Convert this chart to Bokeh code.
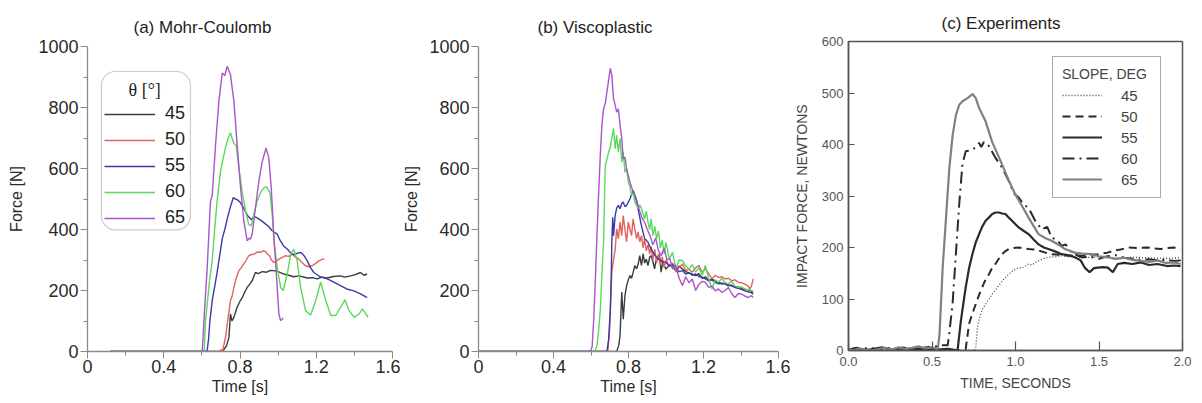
from bokeh.plotting import figure
from bokeh.layouts import row
from bokeh.models import Range1d, FixedTicker, Legend, LegendItem, BoxAnnotation, Label
from bokeh.embed import file_html
from bokeh.resources import INLINE

FONT = "Liberation Sans"
angles = ["45", "50", "55", "60", "65"]
ab_colors = ["#3c3c3c", "#e2625c", "#3a3aa8", "#5cd85c", "#a855c8"]

# ---------------- (a) Mohr-Coulomb ----------------
a_t45 = [0.12, 0.70, 0.715, 0.73, 0.742, 0.75, 0.758, 0.768, 0.785, 0.80, 0.812, 0.825, 0.838, 0.85, 0.864, 0.872, 0.881, 0.895, 0.917, 0.94, 0.96, 0.977, 1.0, 1.03, 1.055, 1.082, 1.11, 1.153, 1.18, 1.205, 1.23, 1.258, 1.29, 1.327, 1.35, 1.38, 1.405, 1.432, 1.45, 1.467]
a_f45 = [0, 0, 5, 20, 47, 123, 100, 112, 145, 165, 177, 195, 210, 220, 232, 245, 259, 255, 262, 260, 266, 265, 262, 254, 250, 245, 248, 241, 242, 238, 244, 241, 246, 248, 244, 248, 252, 259, 250, 254]
a_t50 = [0.12, 0.69, 0.70, 0.708, 0.715, 0.725, 0.733, 0.742, 0.75, 0.758, 0.768, 0.78, 0.794, 0.807, 0.82, 0.833, 0.846, 0.86, 0.873, 0.89, 0.908, 0.92, 0.934, 0.945, 0.955, 0.965, 0.977, 0.99, 1.004, 1.02, 1.039, 1.055, 1.074, 1.09, 1.109, 1.125, 1.144, 1.16, 1.179, 1.195, 1.214, 1.23, 1.243]
a_f50 = [0, 0, 5, 3, 20, 50, 90, 130, 167, 180, 210, 240, 265, 275, 287, 300, 314, 318, 319, 326, 325, 330, 328, 318, 314, 300, 292, 296, 303, 308, 314, 312, 319, 310, 303, 292, 281, 278, 281, 288, 297, 302, 303]
a_t55 = [0.12, 0.627, 0.635, 0.642, 0.655, 0.668, 0.68, 0.695, 0.707, 0.72, 0.735, 0.75, 0.765, 0.775, 0.785, 0.80, 0.82, 0.84, 0.86, 0.875, 0.89, 0.91, 0.93, 0.95, 0.97, 0.995, 1.01, 1.03, 1.048, 1.07, 1.085, 1.1, 1.12, 1.135, 1.153, 1.17, 1.187, 1.22, 1.258, 1.29, 1.327, 1.36, 1.397, 1.43, 1.467]
a_f55 = [0, 0, 40, 100, 170, 215, 260, 320, 370, 400, 440, 475, 505, 500, 498, 490, 470, 445, 432, 442, 438, 430, 420, 410, 395, 385, 365, 345, 336, 320, 318, 322, 325, 315, 297, 275, 259, 245, 238, 228, 216, 205, 199, 190, 177]
a_t60 = [0.12, 0.612, 0.619, 0.628, 0.64, 0.654, 0.667, 0.68, 0.698, 0.712, 0.724, 0.738, 0.75, 0.758, 0.768, 0.78, 0.794, 0.811, 0.829, 0.846, 0.859, 0.873, 0.89, 0.908, 0.925, 0.94, 0.957, 0.969, 0.978, 0.995, 1.013, 1.027, 1.048, 1.066, 1.083, 1.1, 1.118, 1.144, 1.171, 1.197, 1.223, 1.25, 1.276, 1.302, 1.328, 1.351, 1.372, 1.399, 1.425, 1.442, 1.46, 1.472]
a_f60 = [0, 0, 100, 156, 230, 297, 400, 493, 592, 635, 668, 700, 717, 700, 682, 676, 602, 526, 461, 417, 412, 450, 493, 521, 537, 540, 521, 450, 363, 276, 210, 200, 254, 319, 335, 297, 210, 134, 120, 167, 228, 167, 118, 118, 145, 170, 134, 112, 123, 140, 123, 112]
a_t65 = [0.12, 0.602, 0.614, 0.628, 0.645, 0.654, 0.672, 0.689, 0.707, 0.72, 0.733, 0.75, 0.768, 0.785, 0.803, 0.82, 0.838, 0.848, 0.855, 0.864, 0.881, 0.899, 0.917, 0.937, 0.951, 0.964, 0.977, 0.992, 1.004, 1.013, 1.027]
a_f65 = [0, 0, 134, 275, 493, 510, 679, 820, 913, 905, 935, 907, 820, 679, 537, 428, 363, 372, 368, 385, 472, 559, 624, 667, 635, 537, 385, 243, 123, 101, 110]

# ---------------- (b) Viscoplastic ----------------
b_t45 = [0, 0.737, 0.748, 0.755, 0.764, 0.772, 0.781, 0.79, 0.799, 0.808, 0.816, 0.825, 0.834, 0.843, 0.851, 0.86, 0.869, 0.878, 0.886, 0.895, 0.904, 0.913, 0.921, 0.93, 0.939, 0.947, 0.956, 0.965, 0.974, 0.982, 0.991, 1.0, 1.018, 1.035, 1.053, 1.07, 1.088, 1.105, 1.123, 1.14, 1.158, 1.175, 1.193, 1.21, 1.228, 1.245, 1.263, 1.28, 1.298, 1.315, 1.333, 1.35, 1.368, 1.386, 1.403, 1.42, 1.438, 1.455, 1.465]
b_f45 = [0, 0, 20, 53, 195, 106, 183, 216, 235, 249, 240, 260, 282, 271, 285, 314, 282, 320, 290, 303, 282, 310, 314, 295, 271, 300, 303, 318, 260, 293, 280, 270, 285, 276, 265, 280, 270, 262, 258, 254, 249, 255, 240, 245, 232, 238, 230, 228, 221, 225, 218, 215, 210, 212, 206, 203, 203, 198, 194]
b_t50 = [0, 0.69, 0.70, 0.711, 0.72, 0.729, 0.737, 0.746, 0.755, 0.764, 0.772, 0.781, 0.79, 0.799, 0.808, 0.816, 0.825, 0.834, 0.843, 0.851, 0.86, 0.869, 0.878, 0.886, 0.895, 0.904, 0.913, 0.921, 0.93, 0.94, 0.95, 0.96, 0.97, 0.98, 0.99, 1.0, 1.018, 1.035, 1.053, 1.07, 1.088, 1.105, 1.123, 1.14, 1.158, 1.175, 1.193, 1.21, 1.228, 1.245, 1.263, 1.28, 1.298, 1.315, 1.333, 1.35, 1.368, 1.386, 1.403, 1.42, 1.438, 1.447, 1.456, 1.465]
b_f50 = [0, 0, 80, 260, 300, 336, 402, 370, 424, 380, 446, 400, 360, 424, 400, 380, 435, 400, 370, 392, 360, 380, 340, 370, 330, 350, 320, 345, 300, 335, 290, 320, 285, 310, 275, 300, 281, 290, 260, 275, 287, 265, 270, 260, 275, 282, 260, 271, 255, 238, 250, 243, 245, 238, 240, 232, 235, 227, 225, 221, 215, 205, 215, 238]
b_t55 = [0, 0.685, 0.694, 0.703, 0.708, 0.711, 0.716, 0.72, 0.729, 0.737, 0.746, 0.755, 0.764, 0.772, 0.781, 0.79, 0.799, 0.808, 0.816, 0.825, 0.834, 0.843, 0.851, 0.86, 0.869, 0.878, 0.886, 0.895, 0.904, 0.913, 0.921, 0.935, 0.95, 0.965, 0.98, 1.0, 1.018, 1.035, 1.053, 1.07, 1.088, 1.105, 1.123, 1.14, 1.158, 1.175, 1.193, 1.21, 1.228, 1.245, 1.263, 1.28, 1.298, 1.315, 1.333, 1.35, 1.368, 1.386, 1.403, 1.42, 1.438, 1.455, 1.465]
b_f55 = [0, 0, 40, 139, 250, 358, 440, 380, 446, 470, 479, 468, 485, 490, 475, 479, 490, 501, 515, 528, 512, 490, 468, 440, 413, 390, 369, 365, 358, 345, 336, 320, 310, 300, 295, 292, 280, 285, 270, 262, 265, 254, 258, 250, 254, 246, 244, 238, 232, 235, 227, 222, 224, 221, 215, 218, 210, 206, 204, 199, 196, 193, 188]
b_t60 = [0, 0.62, 0.632, 0.641, 0.65, 0.658, 0.667, 0.672, 0.676, 0.685, 0.694, 0.703, 0.711, 0.72, 0.729, 0.737, 0.746, 0.755, 0.764, 0.772, 0.781, 0.79, 0.799, 0.808, 0.816, 0.825, 0.834, 0.843, 0.851, 0.86, 0.869, 0.878, 0.886, 0.895, 0.904, 0.913, 0.921, 0.93, 0.94, 0.95, 0.96, 0.97, 0.98, 0.99, 1.0, 1.018, 1.035, 1.053, 1.07, 1.088, 1.105, 1.123, 1.14, 1.158, 1.175, 1.193, 1.21, 1.228, 1.245, 1.263, 1.28, 1.298, 1.315, 1.333, 1.35, 1.368, 1.386, 1.403, 1.42, 1.438, 1.455, 1.465]
b_f60 = [0, 0, 20, 70, 139, 250, 358, 500, 610, 630, 654, 670, 698, 731, 665, 709, 654, 698, 621, 654, 588, 600, 555, 540, 512, 520, 490, 480, 468, 480, 470, 450, 435, 460, 424, 400, 435, 380, 410, 370, 395, 340, 365, 320, 358, 303, 325, 270, 300, 298, 280, 270, 285, 260, 275, 250, 282, 238, 205, 235, 227, 240, 225, 222, 230, 215, 210, 212, 205, 203, 200, 197]
b_t65 = [0, 0.595, 0.606, 0.615, 0.624, 0.633, 0.641, 0.65, 0.658, 0.667, 0.676, 0.685, 0.694, 0.703, 0.711, 0.72, 0.729, 0.737, 0.746, 0.755, 0.764, 0.772, 0.781, 0.79, 0.808, 0.825, 0.84, 0.855, 0.87, 0.885, 0.9, 0.915, 0.93, 0.945, 0.96, 0.975, 0.99, 1.005, 1.02, 1.035, 1.05, 1.07, 1.088, 1.105, 1.123, 1.14, 1.158, 1.175, 1.193, 1.21, 1.228, 1.245, 1.263, 1.28, 1.298, 1.315, 1.333, 1.35, 1.368, 1.386, 1.403, 1.42, 1.438, 1.455, 1.465]
b_f65 = [0, 0, 15, 110, 249, 400, 522, 650, 742, 796, 813, 851, 890, 928, 906, 829, 807, 785, 796, 742, 698, 632, 637, 599, 555, 522, 505, 470, 440, 425, 400, 380, 350, 372, 330, 315, 340, 300, 305, 270, 285, 240, 216, 245, 225, 238, 200, 220, 230, 227, 210, 215, 199, 205, 194, 200, 210, 190, 177, 190, 188, 182, 177, 183, 177]

# ---------------- (c) Experiments ----------------
c_t45 = [0.0, 0.2, 0.4, 0.6, 0.75, 0.762, 0.772, 0.782, 0.791, 0.802, 0.821, 0.842, 0.861, 0.881, 0.9, 0.921, 0.94, 0.96, 0.98, 1.0, 1.019, 1.04, 1.06, 1.078, 1.099, 1.12, 1.139, 1.16, 1.178, 1.197, 1.238, 1.276, 1.32, 1.4, 1.5, 1.6, 1.7, 1.8, 1.9, 1.988]
c_f45 = [0, 0, 0, 0, 0, 5, 45, 60, 70, 80, 90, 100, 110, 118, 126, 135, 142, 148, 154, 158, 161, 160, 164, 168, 166, 171, 174, 177, 180, 181, 182, 184, 182, 180, 182, 179, 181, 180, 179, 180]
c_t50 = [0.0, 0.1, 0.2, 0.3, 0.4, 0.5, 0.6, 0.68, 0.702, 0.722, 0.742, 0.762, 0.782, 0.801, 0.821, 0.841, 0.86, 0.88, 0.9, 0.92, 0.94, 0.96, 0.99, 1.019, 1.05, 1.078, 1.11, 1.138, 1.18, 1.217, 1.26, 1.316, 1.36, 1.395, 1.45, 1.494, 1.55, 1.593, 1.63, 1.672, 1.73, 1.791, 1.83, 1.87, 1.91, 1.949, 1.988]
c_f50 = [0, 2, 0, 1, 0, 2, 0, 0, 3, 52, 72, 90, 108, 123, 138, 148, 160, 168, 178, 187, 193, 197, 199, 200, 198, 197, 196, 194, 190, 187, 186, 184, 185, 184, 186, 187, 190, 194, 196, 200, 199, 200, 198, 197, 199, 200, 197]
c_t55 = [0.0, 0.05, 0.1, 0.15, 0.2, 0.25, 0.3, 0.35, 0.4, 0.45, 0.5, 0.55, 0.6, 0.653, 0.673, 0.702, 0.722, 0.742, 0.762, 0.782, 0.8, 0.821, 0.84, 0.861, 0.88, 0.9, 0.92, 0.94, 0.96, 0.979, 1.0, 1.019, 1.05, 1.078, 1.11, 1.138, 1.17, 1.197, 1.24, 1.276, 1.32, 1.355, 1.39, 1.414, 1.444, 1.47, 1.494, 1.525, 1.553, 1.583, 1.612, 1.65, 1.7, 1.751, 1.8, 1.85, 1.909, 1.95, 1.988]
c_f55 = [2, 5, 0, 3, 6, 2, 4, 0, 3, 2, 4, 2, 3, 0, 58, 123, 160, 187, 210, 226, 240, 252, 258, 265, 268, 268, 266, 265, 258, 252, 245, 239, 232, 226, 215, 206, 200, 197, 192, 187, 185, 181, 175, 161, 152, 160, 161, 162, 161, 152, 168, 170, 168, 171, 166, 168, 164, 165, 164]
c_t60 = [0.0, 0.04, 0.08, 0.12, 0.16, 0.2, 0.24, 0.28, 0.32, 0.36, 0.4, 0.44, 0.48, 0.52, 0.56, 0.594, 0.603, 0.623, 0.643, 0.663, 0.682, 0.702, 0.722, 0.742, 0.762, 0.782, 0.795, 0.811, 0.841, 0.88, 0.92, 0.96, 0.99, 1.019, 1.05, 1.078, 1.118, 1.157, 1.19, 1.217, 1.25, 1.276, 1.3, 1.335, 1.395, 1.45, 1.5, 1.55, 1.6, 1.65, 1.7, 1.75, 1.8, 1.85, 1.9, 1.95, 1.99]
c_f60 = [0, 4, 2, 6, 3, 0, 5, 2, 6, 4, 2, 5, 7, 8, 10, 10, 32, 90, 187, 284, 361, 387, 388, 390, 395, 403, 395, 405, 397, 374, 355, 329, 305, 297, 283, 277, 252, 235, 240, 219, 215, 203, 206, 190, 181, 182, 178, 183, 185, 180, 178, 176, 177, 175, 176, 174, 175]
c_t65 = [0.0, 0.03, 0.06, 0.1, 0.14, 0.18, 0.22, 0.26, 0.3, 0.34, 0.38, 0.42, 0.46, 0.5, 0.535, 0.545, 0.564, 0.584, 0.604, 0.624, 0.644, 0.663, 0.683, 0.713, 0.743, 0.762, 0.782, 0.821, 0.86, 0.92, 0.96, 0.999, 1.04, 1.078, 1.138, 1.18, 1.217, 1.26, 1.296, 1.355, 1.4, 1.454, 1.5, 1.553, 1.6, 1.65, 1.7, 1.751, 1.8, 1.85, 1.9, 1.95, 1.988]
c_f65 = [3, 0, 4, 2, 0, 3, 5, 2, 6, 3, 5, 8, 4, 6, 3, 32, 161, 258, 355, 419, 458, 477, 484, 490, 498, 490, 471, 445, 405, 361, 330, 303, 280, 258, 226, 218, 213, 205, 197, 190, 188, 187, 183, 181, 178, 180, 176, 174, 172, 175, 170, 171, 168]

ab_x_ticks = [0, 0.4, 0.8, 1.2, 1.6]
ab_x_minor = [0.2, 0.6, 1.0, 1.4]
ab_y_ticks = [0, 200, 400, 600, 800, 1000]
ab_y_minor = [100, 300, 500, 700, 900]
c_x_ticks = [0.0, 0.5, 1.0, 1.5, 2.0]
c_x_labels = ["0.0", "0.5", "1.0", "1.5", "2.0"]
c_y_ticks = [0, 100, 200, 300, 400, 500, 600]


def style_ab(p, title, title_offset, ylab_standoff):
    p.title.text = title
    p.title.align = "left"
    p.title.offset = title_offset
    p.title.standoff = 20
    p.title.text_font = FONT
    p.title.text_font_size = "17px"
    p.title.text_font_style = "normal"
    p.title.text_color = "#222222"
    p.xgrid.visible = False
    p.ygrid.visible = False
    p.outline_line_color = None
    p.xaxis.ticker = FixedTicker(ticks=ab_x_ticks, minor_ticks=ab_x_minor)
    p.yaxis.ticker = FixedTicker(ticks=ab_y_ticks, minor_ticks=ab_y_minor)
    p.xaxis.major_label_overrides = {0: "0", 0.4: "0.4", 0.8: "0.8", 1.2: "1.2", 1.6: "1.6"}
    p.xaxis.axis_label = "Time [s]"
    p.yaxis.axis_label = "Force [N]"
    for ax in (p.xaxis[0], p.yaxis[0]):
        ax.axis_line_color = "#8a8a8a"
        ax.axis_line_width = 1.3
        ax.major_tick_line_color = "#8a8a8a"
        ax.minor_tick_line_color = "#8a8a8a"
        ax.major_tick_in = 0
        ax.minor_tick_in = 0
        ax.major_tick_out = 7
        ax.minor_tick_out = 4
        ax.major_label_text_font = FONT
        ax.major_label_text_font_size = "18px"
        ax.major_label_text_color = "#2a2a2a"
        ax.axis_label_text_font = FONT
        ax.axis_label_text_font_size = "16px"
        ax.axis_label_text_font_style = "normal"
        ax.axis_label_text_color = "#2a2a2a"
    p.xaxis.major_label_standoff = 1
    p.xaxis.axis_label_standoff = 2
    p.yaxis.major_label_standoff = 2
    p.yaxis.axis_label_standoff = ylab_standoff


def make_ab(width, data, title, title_offset, mbl, mbr, ylab_standoff):
    p = figure(width=width, height=396, x_range=Range1d(0, 1.6), y_range=Range1d(0, 1000),
               output_backend="svg", toolbar_location=None,
               min_border_left=mbl, min_border_right=mbr, min_border_top=40, min_border_bottom=50)
    p.margin = (5, 0, 0, 0)
    style_ab(p, title, title_offset, ylab_standoff)
    rends = []
    for (t, f), col in zip(data, ab_colors):
        rends.append(p.line(t, f, line_color=col, line_width=1.4))
    return p, rends


pa, ra = make_ab(400, [(a_t45, a_f45), (a_t50, a_f50), (a_t55, a_f55), (a_t60, a_f60), (a_t65, a_f65)],
                 "(a) Mohr-Coulomb", 46, 87, 8, 10)
pb, rb = make_ab(390, [(b_t45, b_f45), (b_t50, b_f50), (b_t55, b_f55), (b_t60, b_f60), (b_t65, b_f65)],
                 "(b) Viscoplastic", 59, 73, 12, 6)

# rounded legend frame of panel (a)
box = BoxAnnotation(left=0.073, right=0.54, bottom=399, top=918,
                    fill_color=None, fill_alpha=0, level="underlay",
                    line_color="#555555", line_width=1.2, border_radius=14)
pa.add_layout(box)
pa.add_layout(Label(x=0.30, y=856, text="\u03b8 [\u00b0]", text_align="center", text_baseline="middle",
                    text_font="Liberation Serif", text_font_size="18px", text_color="#222222"))
leg_a = Legend(items=[LegendItem(label=a, renderers=[r]) for a, r in zip(angles, ra)],
               location=(12, 118), orientation="vertical",
               background_fill_alpha=0, border_line_alpha=0,
               padding=5, spacing=5, label_height=20, glyph_height=20, glyph_width=51,
               label_standoff=10, label_text_font=FONT, label_text_font_size="18px",
               label_text_color="#222222")
pa.add_layout(leg_a)

# ---------------- panel (c) ----------------
pc = figure(width=408, height=400, x_range=Range1d(0, 2.0), y_range=Range1d(0, 600),
            output_backend="svg", toolbar_location=None,
            min_border_left=55, min_border_right=16, min_border_top=40, min_border_bottom=50)
pc.title.text = "(c) Experiments"
pc.title.align = "left"
pc.title.offset = 93
pc.title.standoff = 18
pc.title.text_font = FONT
pc.title.text_font_size = "17px"
pc.title.text_font_style = "normal"
pc.title.text_color = "#222222"
pc.xgrid.visible = False
pc.ygrid.visible = False
pc.outline_line_color = "#555555"
pc.outline_line_width = 1.5
pc.xaxis.ticker = FixedTicker(ticks=c_x_ticks)
pc.yaxis.ticker = FixedTicker(ticks=c_y_ticks)
pc.xaxis.major_label_overrides = dict(zip(c_x_ticks, c_x_labels))
pc.xaxis.axis_label = "TIME, SECONDS"
pc.yaxis.axis_label = "IMPACT FORCE, NEWTONS"
for ax in (pc.xaxis[0], pc.yaxis[0]):
    ax.axis_line_color = "#555555"
    ax.axis_line_width = 1.5
    ax.major_tick_line_color = "#555555"
    ax.major_tick_line_width = 1.2
    ax.minor_tick_line_color = None
    ax.major_tick_out = 0
    ax.major_label_text_font = FONT
    ax.major_label_text_font_size = "13px"
    ax.major_label_text_color = "#555555"
    ax.axis_label_text_font = FONT
    ax.axis_label_text_font_size = "14px"
    ax.axis_label_text_font_style = "normal"
    ax.axis_label_text_color = "#444444"
pc.xaxis.major_tick_in = 9
pc.yaxis.major_tick_in = 6
pc.xaxis.major_label_standoff = 6
pc.xaxis.axis_label_standoff = 6
pc.yaxis.major_label_standoff = 5
pc.yaxis.axis_label_standoff = 9

c_styles = [
    dict(line_color="#444444", line_width=1.3, line_dash="1 2"),
    dict(line_color="#2a2a2a", line_width=2.0, line_dash="8 5"),
    dict(line_color="#2a2a2a", line_width=2.2),
    dict(line_color="#2a2a2a", line_width=2.0, line_dash="12 5 2 5"),
    dict(line_color="#808080", line_width=2.2),
]
rc = []
for (t, f), st in zip([(c_t45, c_f45), (c_t50, c_f50), (c_t55, c_f55), (c_t60, c_f60), (c_t65, c_f65)], c_styles):
    rc.append(pc.line(t, f, **st))

leg_c = Legend(items=[LegendItem(label=a, renderers=[r]) for a, r in zip(angles, rc)],
               location=(204, 152), orientation="vertical", title="SLOPE, DEG",
               title_text_font=FONT, title_text_font_size="14px", title_text_font_style="normal",
               title_text_color="#444444", title_standoff=4,
               background_fill_color="white", background_fill_alpha=1,
               border_line_color="#555555", border_line_width=1.5,
               padding=9, spacing=3, label_height=18, glyph_height=18, glyph_width=40,
               label_standoff=19, label_width=30, label_text_font=FONT, label_text_font_size="15px",
               label_text_color="#444444")
pc.add_layout(leg_c)

layout = row(pa, pb, pc)
open("out.html", "w").write(file_html(layout, INLINE))
